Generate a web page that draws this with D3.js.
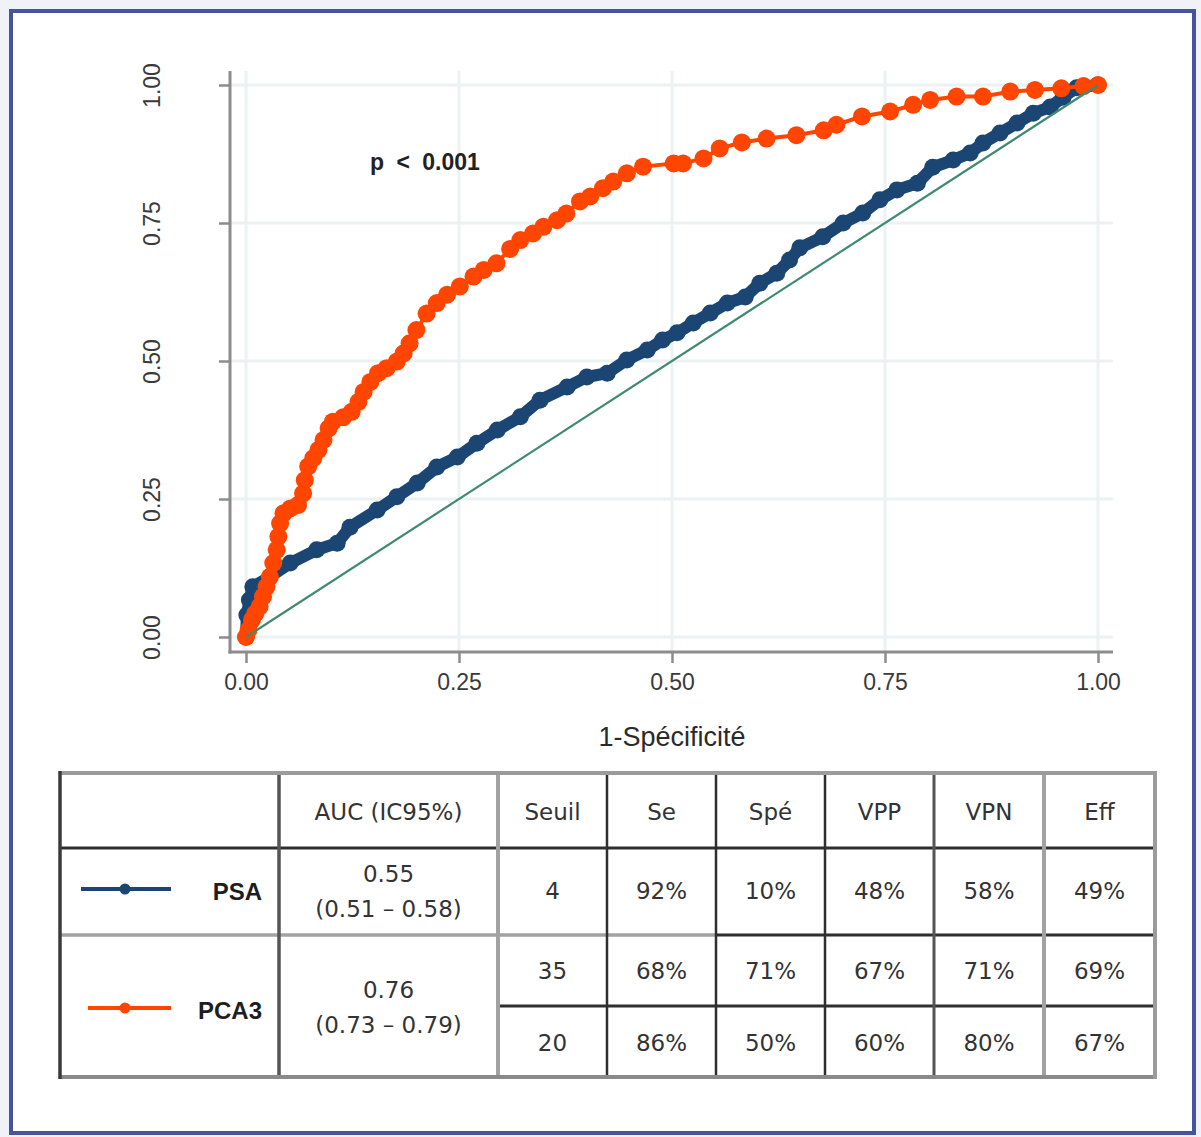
<!DOCTYPE html>
<html>
<head>
<meta charset="utf-8">
<script src="https://cdn.jsdelivr.net/npm/d3@7"></script>
<style>
  html, body { margin: 0; padding: 0; background: #f1f2f7; }
  svg { display: block; }
</style>
</head>
<body>
<svg id="chart" width="1201" height="1137"></svg>
<script>
// ROC curves: 1 - specificity (x) against sensitivity (y)
const psaFpr = [0, 0.001, 0.004, 0.008, 0.028, 0.052, 0.083, 0.107, 0.122, 0.154, 0.177, 0.201, 0.224, 0.248, 0.271, 0.295,
  0.322, 0.345, 0.377, 0.400, 0.424, 0.447, 0.471, 0.489, 0.506, 0.525, 0.545, 0.565, 0.586, 0.603, 0.623, 0.638,
  0.650, 0.677, 0.701, 0.724, 0.744, 0.764, 0.788, 0.806, 0.830, 0.850, 0.865, 0.885, 0.905, 0.924, 0.944, 0.959, 0.975, 1];
const psaTpr = [0, 0.040, 0.067, 0.091, 0.109, 0.134, 0.158, 0.170, 0.199, 0.230, 0.254, 0.279, 0.308, 0.326, 0.351, 0.375,
  0.399, 0.429, 0.453, 0.471, 0.478, 0.502, 0.520, 0.538, 0.551, 0.569, 0.587, 0.605, 0.616, 0.641, 0.659, 0.683,
  0.705, 0.725, 0.750, 0.768, 0.792, 0.810, 0.822, 0.851, 0.864, 0.877, 0.895, 0.913, 0.931, 0.949, 0.960, 0.978, 0.995, 1];

const pca3Fpr = [0, 0.003, 0.007, 0.011, 0.016, 0.020, 0.024, 0.028, 0.032, 0.036, 0.038, 0.040, 0.044, 0.052, 0.061, 0.067,
  0.069, 0.073, 0.079, 0.085, 0.091, 0.097, 0.102, 0.114, 0.124, 0.132, 0.138, 0.146, 0.155, 0.165, 0.177, 0.185,
  0.192, 0.200, 0.212, 0.224, 0.236, 0.251, 0.267, 0.279, 0.294, 0.310, 0.322, 0.337, 0.349, 0.365, 0.376, 0.392,
  0.404, 0.419, 0.431, 0.447, 0.466, 0.502, 0.513, 0.537, 0.556, 0.582, 0.611, 0.646, 0.678, 0.693, 0.723, 0.756,
  0.783, 0.803, 0.834, 0.865, 0.897, 0.926, 0.957, 0.983, 1];
const pca3Tpr = [0, 0.013, 0.031, 0.043, 0.055, 0.073, 0.091, 0.109, 0.134, 0.158, 0.182, 0.206, 0.224, 0.233, 0.239, 0.260,
  0.284, 0.309, 0.324, 0.339, 0.357, 0.378, 0.390, 0.398, 0.408, 0.426, 0.444, 0.462, 0.478, 0.487, 0.499, 0.514,
  0.532, 0.556, 0.586, 0.605, 0.620, 0.635, 0.653, 0.665, 0.677, 0.703, 0.719, 0.731, 0.743, 0.755, 0.767, 0.789,
  0.798, 0.813, 0.825, 0.840, 0.852, 0.858, 0.858, 0.867, 0.885, 0.896, 0.903, 0.909, 0.918, 0.928, 0.943, 0.952,
  0.964, 0.973, 0.979, 0.979, 0.988, 0.991, 0.994, 0.998, 1];

const axisTicks = [0, 0.25, 0.5, 0.75, 1];
const xTitle = "1-Spécificité";
const pLabel = "p < 0.001";

// Summary table
const tableHeaders = ["", "AUC (IC95%)", "Seuil", "Se", "Spé", "VPP", "VPN", "Eff"];
const markerNames = ["PSA", "PCA3"];
const aucValues = ["0.55", "0.76"];
const aucIntervals = ["(0.51 – 0.58)", "(0.73 – 0.79)"];
const seuils = ["4", "35", "20"];
const seValues = ["92%", "68%", "86%"];
const speValues = ["10%", "71%", "50%"];
const vppValues = ["48%", "67%", "60%"];
const vpnValues = ["58%", "71%", "80%"];
const effValues = ["49%", "69%", "67%"];

const NAVY = "#1b4674";
const ORANGE = "#ff4500";
const DIAG = "#3f8a70";
const TEXT = "#333333";

const svg = d3.select("#chart");

// Page frame
svg.append("rect")
  .attr("x", 11).attr("y", 11).attr("width", 1183).attr("height", 1122)
  .attr("fill", "#ffffff").attr("stroke", "#47539a").attr("stroke-width", 4);

// Scales
const x = d3.scaleLinear().domain([0, 1]).range([246, 1098]);
const y = d3.scaleLinear().domain([0, 1]).range([637, 85]);
const plotLeft = 230, plotRight = 1113, plotTop = 71, plotBottom = 652;

const g = svg.append("g");

// Grid
g.append("g").selectAll("line").data(axisTicks).join("line")
  .attr("x1", plotLeft).attr("x2", plotRight)
  .attr("y1", d => y(d)).attr("y2", d => y(d))
  .attr("stroke", "#ecf1f4").attr("stroke-width", 3);
g.append("g").selectAll("line").data(axisTicks).join("line")
  .attr("x1", d => x(d)).attr("x2", d => x(d))
  .attr("y1", plotTop).attr("y2", plotBottom)
  .attr("stroke", "#ecf1f4").attr("stroke-width", 3);

// Axes
const fmt = d3.format(".2f");
const xAxis = g.append("g").attr("transform", `translate(0,${plotBottom})`)
  .call(d3.axisBottom(x).tickValues(axisTicks).tickFormat(fmt).tickSize(11).tickPadding(8));
const yAxis = g.append("g").attr("transform", `translate(${plotLeft},0)`)
  .call(d3.axisLeft(y).tickValues(axisTicks).tickFormat(fmt).tickSize(11).tickPadding(0));
[xAxis, yAxis].forEach(a => {
  a.select(".domain").remove();
  a.selectAll(".tick line").attr("stroke", "#8c8c8c").attr("stroke-width", 2.5);
  a.selectAll(".tick text")
    .attr("fill", "#3a3a3a")
    .style("font-family", "'Liberation Sans', Arial, sans-serif")
    .style("font-size", "23px");
});
xAxis.selectAll(".tick text").attr("dy", "0.71em").attr("y", 22);
yAxis.selectAll(".tick text")
  .attr("x", null).attr("dy", null)
  .attr("text-anchor", "middle")
  .attr("transform", "translate(-78,0) rotate(-90)")
  .attr("dy", "0.35em");

g.append("line").attr("x1", plotLeft).attr("x2", plotLeft).attr("y1", plotTop).attr("y2", plotBottom + 1.5)
  .attr("stroke", "#8c8c8c").attr("stroke-width", 3);
g.append("line").attr("x1", plotLeft - 1.5).attr("x2", plotRight).attr("y1", plotBottom).attr("y2", plotBottom)
  .attr("stroke", "#8c8c8c").attr("stroke-width", 3);

// Axis title
g.append("text").attr("x", (x(0) + x(1)) / 2).attr("y", 737).attr("dy", "0.35em")
  .attr("text-anchor", "middle").attr("fill", "#2a2a2a")
  .style("font-family", "'Liberation Sans', Arial, sans-serif").style("font-size", "27px")
  .text(xTitle);

// Curves
const line = d3.line().x(d => x(d[0])).y(d => y(d[1]));
const psa = psaFpr.map((v, i) => [v, psaTpr[i]]);
const pca3 = pca3Fpr.map((v, i) => [v, pca3Tpr[i]]);

g.append("path").datum(psa).attr("d", line).attr("fill", "none")
  .attr("stroke", NAVY).attr("stroke-width", 12).attr("stroke-linejoin", "round");
g.append("g").selectAll("circle").data(psa).join("circle")
  .attr("cx", d => x(d[0])).attr("cy", d => y(d[1])).attr("r", 8.5).attr("fill", NAVY);

g.append("path").datum(pca3).attr("d", line).attr("fill", "none")
  .attr("stroke", ORANGE).attr("stroke-width", 4).attr("stroke-linejoin", "round");
g.append("g").selectAll("circle").data(pca3).join("circle")
  .attr("cx", d => x(d[0])).attr("cy", d => y(d[1])).attr("r", 9).attr("fill", ORANGE);

// Reference diagonal
g.append("line").attr("x1", x(0)).attr("y1", y(0)).attr("x2", x(1)).attr("y2", y(1))
  .attr("stroke", DIAG).attr("stroke-width", 2.2);

// p-value annotation
g.append("text").attr("x", 370).attr("y", 162).attr("dy", "0.35em")
  .attr("fill", "#222").style("font-family", "'Liberation Sans', Arial, sans-serif")
  .style("font-size", "23px").style("font-weight", "bold").style("word-spacing", "6px")
  .text(pLabel);

// ----- Table -----
const colX = [60, 279, 498, 607, 716, 825, 934, 1044, 1155];
const rowY = [773, 848, 935, 1006, 1077];
const t = svg.append("g");
const tableFont = "'DejaVu Sans', Verdana, sans-serif";

const mid = (a, b) => (a + b) / 2;
function cellText(cx, cy, txt) {
  t.append("text").attr("x", cx).attr("y", cy).attr("dy", "0.36em")
    .attr("text-anchor", "middle").attr("fill", TEXT)
    .style("font-family", tableFont).style("font-size", "23px").text(txt);
}

// Header
tableHeaders.forEach((h, i) => {
  if (h) cellText(mid(colX[i], colX[i + 1]), 812, h);
});

// Marker names with legend keys
const legendY = [889, 1008];
const legendColors = [NAVY, ORANGE];
const legendStart = [81, 88];
markerNames.forEach((name, i) => {
  t.append("line").attr("x1", legendStart[i]).attr("x2", 171).attr("y1", legendY[i]).attr("y2", legendY[i])
    .attr("stroke", legendColors[i]).attr("stroke-width", 4);
  t.append("circle").attr("cx", 125).attr("cy", legendY[i]).attr("r", 5.5).attr("fill", legendColors[i]);
  t.append("text").attr("x", 262).attr("y", legendY[i] + 2).attr("dy", "0.36em")
    .attr("text-anchor", "end").attr("fill", "#1e1e1e")
    .style("font-family", "'Liberation Sans', Arial, sans-serif").style("font-size", "24px")
    .style("font-weight", "bold").text(name);
});

// AUC cells
const aucCenters = [[874, 909], [990, 1025]];
aucValues.forEach((v, i) => {
  cellText(mid(colX[1], colX[2]), aucCenters[i][0], v);
  cellText(mid(colX[1], colX[2]), aucCenters[i][1], aucIntervals[i]);
});

// Threshold rows
const thresholdRowY = [891, 971, 1043];
const columnsData = [seuils, seValues, speValues, vppValues, vpnValues, effValues];
columnsData.forEach((col, c) => {
  col.forEach((v, r) => cellText(mid(colX[c + 2], colX[c + 3]), thresholdRowY[r], v));
});

// Grid lines of the table
function tl(x1, y1, x2, y2, color, w) {
  t.append("line").attr("x1", x1).attr("y1", y1).attr("x2", x2).attr("y2", y2)
    .attr("stroke", color).attr("stroke-width", w);
}
const DARK = "#2f2f2f", MIDG = "#555555", LIGHT = "#a2a2a2";
// horizontal rules
tl(colX[0], rowY[1], colX[8], rowY[1], DARK, 3);
tl(colX[0], rowY[2], colX[4], rowY[2], LIGHT, 3.5);
tl(colX[4], rowY[2], colX[8], rowY[2], DARK, 3);
tl(colX[2], rowY[3], colX[8], rowY[3], DARK, 3);
// vertical rules
tl(colX[1], rowY[0], colX[1], rowY[4], MIDG, 3.5);
tl(colX[2], rowY[0], colX[2], rowY[4], LIGHT, 4);
tl(colX[3], rowY[0], colX[3], rowY[4], DARK, 2.5);
tl(colX[4], rowY[0], colX[4], rowY[4], DARK, 2.5);
tl(colX[5], rowY[0], colX[5], rowY[4], DARK, 2.5);
tl(colX[6], rowY[0], colX[6], rowY[4], MIDG, 3);
tl(colX[7], rowY[0], colX[7], rowY[4], LIGHT, 4);
// outer border
tl(colX[0], rowY[0], colX[8] + 2, rowY[0], "#9b9b9b", 4);
tl(colX[0], rowY[4], colX[8] + 2, rowY[4], "#8a8a8a", 4);
tl(colX[0], rowY[0] - 2, colX[0], rowY[4] + 2, "#3a3a3a", 3.5);
tl(colX[8], rowY[0] - 2, colX[8], rowY[4] + 2, "#9b9b9b", 4);
</script>
</body>
</html>
